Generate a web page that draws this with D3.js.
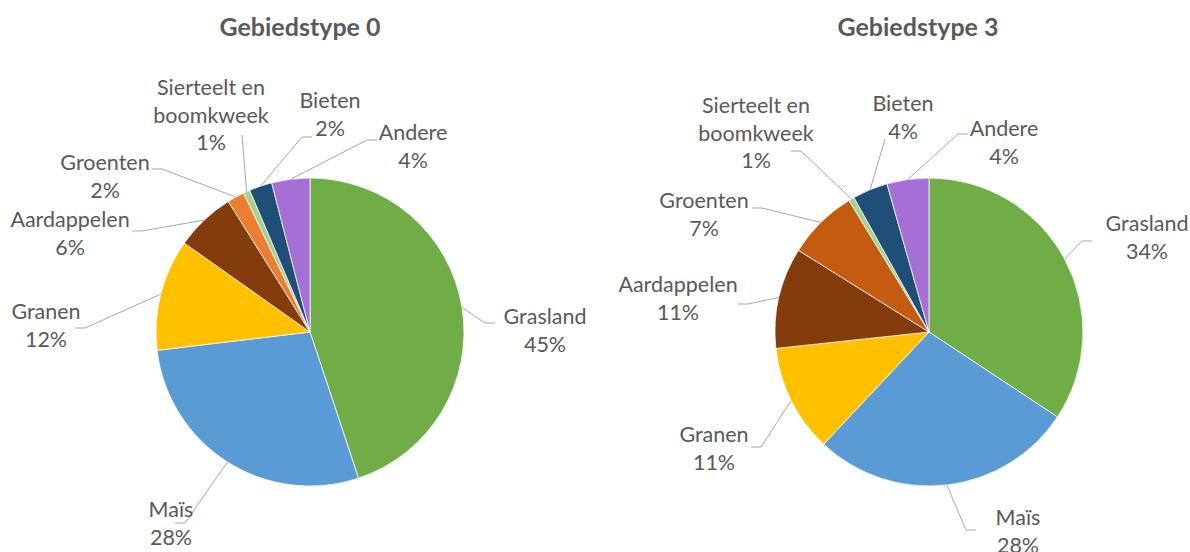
<!DOCTYPE html>
<html lang="nl">
<head>
<meta charset="UTF-8">
<title>Gebiedstype 0 en 3</title>
<script src="https://d3js.org/d3.v7.min.js"></script>
<style>
  body { margin: 0; background: #fff; }
  text { font-family: Lato, "Open Sans", sans-serif; fill: #595959; }
</style>
</head>
<body>
<svg id="chart" width="1190" height="552"></svg>
<script>
// categories in drawing order (clockwise from 12 o'clock)
const categories = ["Grasland", "Maïs", "Granen", "Aardappelen", "Groenten", "Sierteelt en boomkweek", "Bieten", "Andere"];
const titles = ["Gebiedstype 0", "Gebiedstype 3"];

// shares (%)
const values0 = [44.9, 28.2, 11.7, 6.3, 1.8, 0.7, 2.4, 4.0];
const values3 = [34.3, 27.7, 11.3, 10.6, 7.4, 0.6, 3.7, 4.4];

const colors0 = ["#70AD47", "#5B9BD5", "#FFC000", "#843C0C", "#ED7D31", "#A9D18E", "#1F4E79", "#A66FD6"];
const colors3 = ["#70AD47", "#5B9BD5", "#FFC000", "#843C0C", "#C55A11", "#A9D18E", "#1F4E79", "#A66FD6"];

// label layout, relative to pie centre: text anchor (first baseline) and leader end
const labelAt0 = [[235, -8], [-139, 185], [-264, -13], [-240, -105], [-205, -162], [-99, -237], [20, -224], [103, -192]];
const leaderTo0 = [[185, -9], [-135, 191], [-235, -4], [-178, -101], [-158, -163], [-68, -197], [2, -195], [67, -192]];
const labelAt3 = [[218, -101], [89, 193], [-215, 110], [-251, -40], [-225, -124], [-173, -219], [-26, -221], [75, -196]];
const leaderTo3 = [[163, -91], [47, 198], [-178, 115], [-191, -28], [-177, -124], [-138, -181], [-44, -193], [39, -198]];

const charts = [
  { title: titles[0], values: values0, colors: colors0, labelAt: labelAt0, leaderTo: leaderTo0, cx: 310, cy: 332, tx: 300 },
  { title: titles[1], values: values3, colors: colors3, labelAt: labelAt3, leaderTo: leaderTo3, cx: 929, cy: 332, tx: 918 }
];

const radius = 154;
const lineH = 27.5;
const svg = d3.select("#chart");
const pie = d3.pie().sort(null).value(d => d);
const arc = d3.arc().innerRadius(0).outerRadius(radius);
const edge = d3.arc().innerRadius(radius).outerRadius(radius);
const total = v => d3.sum(v);
const fmt = d3.format(".0%");

// splits a category into the lines Excel wrapped it to
function lines(name) {
  return name === "Sierteelt en boomkweek" ? ["Sierteelt en", "boomkweek"] : [name];
}

charts.forEach(c => {
  svg.append("text")
    .attr("x", c.tx).attr("y", 36)
    .attr("text-anchor", "middle")
    .style("font-size", "25px").style("font-weight", "bold")
    .text(c.title);

  const g = svg.append("g").attr("transform", `translate(${c.cx},${c.cy})`);
  const arcs = pie(c.values);
  const sum = total(c.values);

  g.selectAll("path.slice")
    .data(arcs)
    .enter()
    .append("path")
    .attr("class", "slice")
    .attr("d", arc)
    .attr("fill", (d, i) => c.colors[i])
    .attr("stroke", "#fff")
    .attr("stroke-width", 0.75);

  // leader lines
  g.selectAll("polyline")
    .data(arcs)
    .enter()
    .append("polyline")
    .attr("points", (d, i) => {
      const s = edge.centroid(d);
      const e = c.leaderTo[i];
      const diff = s[0] - e[0];
      const stub = Math.abs(diff) > 15 ? Math.sign(diff) * 10 : 0;
      return [s, [e[0] + stub, e[1]], e].map(p => p.join(",")).join(" ");
    })
    .attr("fill", "none")
    .attr("stroke", "#A6A6A6")
    .attr("stroke-width", 1);

  // labels
  const lab = g.selectAll("text.lab")
    .data(arcs)
    .enter()
    .append("text")
    .attr("class", "lab")
    .attr("text-anchor", "middle")
    .style("font-size", "21.5px")
    .attr("transform", (d, i) => `translate(${c.labelAt[i][0]},${c.labelAt[i][1]})`);

  lab.each(function (d, i) {
    const t = d3.select(this);
    const rows = lines(categories[i]).concat(fmt(d.data / sum));
    rows.forEach((r, k) => {
      t.append("tspan").attr("x", 0).attr("y", k * lineH).text(r);
    });
  });
});
</script>
</body>
</html>
